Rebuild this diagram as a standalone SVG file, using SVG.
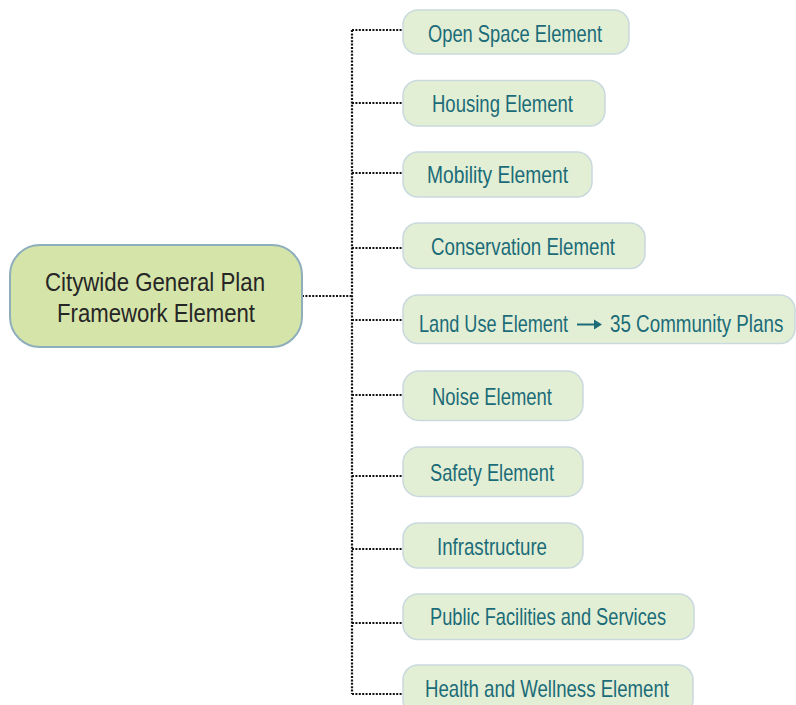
<svg xmlns="http://www.w3.org/2000/svg" width="796" height="705" viewBox="0 0 796 705">
<style>
.box{fill:#e3efd5;stroke:#c9d9de;stroke-width:1.5}
.main{fill:#d5e4a9;stroke:#8eaebb;stroke-width:2}
.lbl{font-family:"Liberation Sans",Arial,sans-serif;font-size:24px;fill:#1b6c78}
.mlbl{font-family:"Liberation Sans",Arial,sans-serif;font-size:26px;fill:#262626}
.dot{fill:none;stroke:#111111;stroke-width:2.2;stroke-dasharray:2 1.4}
</style>
<rect width="796" height="705" fill="#ffffff"/>
<g id="connectors">
<path class="dot" d="M302 296H352"/>
<path class="dot" d="M352 30V694"/>
<path class="dot" d="M352 30H403M352 103H403M352 173H403M352 248H403M352 320H403M352 395H403M352 476H403M352 549H403M352 623H403M352 694H403"/>
</g>
<g id="main">
<rect class="main" x="10" y="245" width="292" height="102" rx="30"/>
<text class="mlbl" x="45" y="291" textLength="220" lengthAdjust="spacingAndGlyphs">Citywide General Plan</text>
<text class="mlbl" x="57" y="322" textLength="198" lengthAdjust="spacingAndGlyphs">Framework Element</text>
</g>
<g id="open-space">
<rect class="box" x="403" y="10" width="226" height="44" rx="15"/>
<text class="lbl" x="428" y="42" textLength="174" lengthAdjust="spacingAndGlyphs">Open Space Element</text>
</g>
<g id="housing">
<rect class="box" x="403" y="80.5" width="202" height="45.5" rx="15"/>
<text class="lbl" x="432" y="112" textLength="141" lengthAdjust="spacingAndGlyphs">Housing Element</text>
</g>
<g id="mobility">
<rect class="box" x="403" y="152" width="189" height="45" rx="15"/>
<text class="lbl" x="427" y="183" textLength="141" lengthAdjust="spacingAndGlyphs">Mobility Element</text>
</g>
<g id="conservation">
<rect class="box" x="403" y="223" width="242" height="45.5" rx="15"/>
<text class="lbl" x="431" y="255" textLength="184" lengthAdjust="spacingAndGlyphs">Conservation Element</text>
</g>
<g id="land-use">
<rect class="box" x="403" y="295" width="392" height="48.5" rx="15"/>
<text class="lbl" x="419" y="332" textLength="149" lengthAdjust="spacingAndGlyphs">Land Use Element</text>
<path d="M577 324.5H595" stroke="#1b6c78" stroke-width="2"/>
<path d="M594 319.5L602 324.5L594 329.5Z" fill="#1b6c78"/>
<text class="lbl" transform="translate(610 332) scale(0.783 1)" x="0" y="0">35 Community Plans</text>
</g>
<g id="noise">
<rect class="box" x="403" y="371" width="180" height="49.5" rx="16"/>
<text class="lbl" x="432" y="405" textLength="120" lengthAdjust="spacingAndGlyphs">Noise Element</text>
</g>
<g id="safety">
<rect class="box" x="403" y="447" width="180" height="49.5" rx="16"/>
<text class="lbl" x="430" y="481" textLength="124" lengthAdjust="spacingAndGlyphs">Safety Element</text>
</g>
<g id="infrastructure">
<rect class="box" x="403" y="523" width="180" height="45" rx="15"/>
<text class="lbl" x="437" y="555" textLength="110" lengthAdjust="spacingAndGlyphs">Infrastructure</text>
</g>
<g id="public-facilities">
<rect class="box" x="403" y="594" width="291" height="45.5" rx="15"/>
<text class="lbl" x="430" y="625" textLength="236" lengthAdjust="spacingAndGlyphs">Public Facilities and Services</text>
</g>
<g id="health">
<rect class="box" x="403" y="665" width="290" height="50" rx="15"/>
<text class="lbl" x="425" y="697" textLength="244" lengthAdjust="spacingAndGlyphs">Health and Wellness Element</text>
</g>
</svg>
